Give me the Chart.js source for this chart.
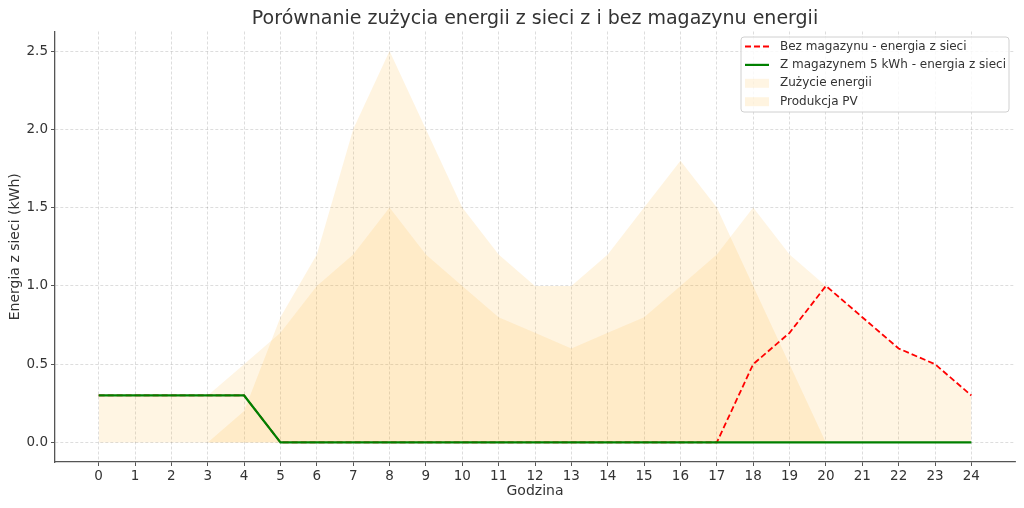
<!DOCTYPE html>
<html>
<head>
<meta charset="utf-8">
<script src="https://cdn.jsdelivr.net/npm/chart.js@4.4.0/dist/chart.umd.min.js"></script>
<style>
  html, body { margin: 0; padding: 0; background: #fff; }
  canvas { display: block; }
</style>
</head>
<body>
<canvas id="chart" width="1024" height="508"></canvas>
<script>
// ---------------------------------------------------------
// Data
// ---------------------------------------------------------
const HOURS = [0, 1, 2, 3, 4, 5, 6, 7, 8, 9, 10, 11, 12, 13, 14, 15, 16, 17, 18, 19, 20, 21, 22, 23, 24];
const GRID_NO_STORAGE = [0.3, 0.3, 0.3, 0.3, 0.3, 0, 0, 0, 0, 0, 0, 0, 0, 0, 0, 0, 0, 0, 0.5, 0.7, 1.0, 0.8, 0.6, 0.5, 0.3];
const GRID_WITH_STORAGE = [0.3, 0.3, 0.3, 0.3, 0.3, 0, 0, 0, 0, 0, 0, 0, 0, 0, 0, 0, 0, 0, 0, 0, 0, 0, 0, 0, 0];
const CONSUMPTION = [0.3, 0.3, 0.3, 0.3, 0.5, 0.7, 1.0, 1.2, 1.5, 1.2, 1.0, 0.8, 0.7, 0.6, 0.7, 0.8, 1.0, 1.2, 1.5, 1.2, 1.0, 0.8, 0.6, 0.5, 0.3];
const PV_PRODUCTION = [0, 0, 0, 0, 0.2, 0.8, 1.2, 2.0, 2.5, 2.0, 1.5, 1.2, 1.0, 1.0, 1.2, 1.5, 1.8, 1.5, 1.0, 0.5, 0, 0, 0, 0, 0];
const Y_TICKS = [0, 0.5, 1.0, 1.5, 2.0, 2.5];

const TITLE = 'Porównanie zużycia energii z sieci z i bez magazynu energii';
const X_LABEL = 'Godzina';
const Y_LABEL = 'Energia z sieci (kWh)';

// ---------------------------------------------------------
// Styling
// ---------------------------------------------------------
const FONT = '"DejaVu Sans", Verdana, sans-serif';
const TEXT_COLOR = '#333';
const GRID_COLOR = 'rgba(0, 0, 0, 0.17)';
const SPINE_COLOR = '#555';
const RED = '#ff0000';
const GREEN = '#008000';
const FILL_CONS = 'rgba(255, 165, 0, 0.11)';
const FILL_PV = 'rgba(255, 165, 0, 0.12)';

const toPoints = (ys) => HOURS.map((h, i) => ({ x: h, y: ys[i] }));

// Title centred over the plot area (not the whole canvas)
const plotTitle = {
  id: 'plotTitle',
  afterDraw(chart) {
    const { ctx, chartArea } = chart;
    ctx.save();
    ctx.font = '19px ' + FONT;
    ctx.fillStyle = TEXT_COLOR;
    ctx.textAlign = 'center';
    ctx.textBaseline = 'middle';
    ctx.fillText(TITLE, (chartArea.left + chartArea.right) / 2, 19.3);
    ctx.restore();
  }
};

// Legend drawn inside the plot, top-right, matplotlib style
const insideLegend = {
  id: 'insideLegend',
  afterDraw(chart) {
    const { ctx, chartArea } = chart;
    const items = chart.data.datasets;
    ctx.save();
    ctx.font = '12px ' + FONT;
    const textW = Math.max(...items.map(d => ctx.measureText(d.label).width));
    const w = 39 + textW + 3;
    const h = 75;
    const x = chartArea.right - 6 - w;
    const y = chartArea.top + 5.5;

    ctx.beginPath();
    ctx.roundRect(x, y, w, h, 3);
    ctx.fillStyle = 'rgba(255, 255, 255, 0.8)';
    ctx.fill();
    ctx.strokeStyle = '#d0d0d0';
    ctx.lineWidth = 1;
    ctx.stroke();

    items.forEach((d, i) => {
      const cy = y + 9.5 + i * 18.4;
      if (d.fill) {
        ctx.fillStyle = d.backgroundColor;
        ctx.fillRect(x + 4, cy - 4.5, 24, 9);
      } else {
        ctx.beginPath();
        ctx.setLineDash(d.borderDash || []);
        ctx.strokeStyle = d.borderColor;
        ctx.lineWidth = d.borderWidth;
        ctx.moveTo(x + 4, cy);
        ctx.lineTo(x + 28, cy);
        ctx.stroke();
        ctx.setLineDash([]);
      }
      ctx.fillStyle = TEXT_COLOR;
      ctx.textBaseline = 'middle';
      ctx.textAlign = 'left';
      ctx.fillText(d.label, x + 39, cy);
    });
    ctx.restore();
  }
};

new Chart(document.getElementById('chart').getContext('2d'), {
  type: 'line',
  data: {
    datasets: [
      {
        label: 'Bez magazynu - energia z sieci',
        data: toPoints(GRID_NO_STORAGE),
        borderColor: RED,
        borderWidth: 1.8,
        borderDash: [6, 3],
        pointRadius: 0,
        fill: false,
        tension: 0,
        order: 1,
      },
      {
        label: 'Z magazynem 5 kWh - energia z sieci',
        data: toPoints(GRID_WITH_STORAGE),
        borderColor: GREEN,
        borderWidth: 2.2,
        pointRadius: 0,
        fill: false,
        tension: 0,
        order: 0,
      },
      {
        label: 'Zużycie energii',
        data: toPoints(CONSUMPTION),
        borderWidth: 0,
        borderColor: 'rgba(0,0,0,0)',
        backgroundColor: FILL_CONS,
        pointRadius: 0,
        fill: 'origin',
        tension: 0,
        order: 2,
      },
      {
        label: 'Produkcja PV',
        data: toPoints(PV_PRODUCTION),
        borderWidth: 0,
        borderColor: 'rgba(0,0,0,0)',
        backgroundColor: FILL_PV,
        pointRadius: 0,
        fill: 'origin',
        tension: 0,
        order: 3,
      },
    ],
  },
  options: {
    responsive: false,
    animation: false,
    events: [],
    layout: { padding: { left: 0, right: 9, top: 31.5, bottom: 0 } },
    plugins: {
      legend: { display: false },
      tooltip: { enabled: false },
      title: { display: false },
    },
    scales: {
      x: {
        type: 'linear',
        min: -1.2,
        max: 25.2,
        afterBuildTicks: (axis) => { axis.ticks = HOURS.map(v => ({ value: v })); },
        afterFit: (axis) => { axis.height = 46; },
        ticks: {
          color: TEXT_COLOR,
          font: { family: FONT, size: 13.5 },
          padding: 2,
          autoSkip: false,
          maxRotation: 0,
          callback: (v) => String(v),
        },
        grid: {
          color: GRID_COLOR,
          lineWidth: 0.8,
          tickLength: 4,
          tickColor: SPINE_COLOR,
          tickWidth: 1,
          tickBorderDash: [],
        },
        border: { display: true, color: SPINE_COLOR, width: 1.3, dash: [3, 2] },
        title: {
          display: true,
          text: X_LABEL,
          color: TEXT_COLOR,
          font: { family: FONT, size: 14 },
          padding: { top: 0, bottom: 8 },
        },
      },
      y: {
        type: 'linear',
        min: -0.125,
        max: 2.625,
        afterBuildTicks: (axis) => { axis.ticks = Y_TICKS.map(v => ({ value: v })); },
        afterFit: (axis) => { axis.width = 55; },
        ticks: {
          color: TEXT_COLOR,
          font: { family: FONT, size: 13.5 },
          padding: 3,
          callback: (v) => Number(v).toFixed(1),
        },
        grid: {
          color: GRID_COLOR,
          lineWidth: 0.8,
          tickLength: 4,
          tickColor: SPINE_COLOR,
          tickWidth: 1,
          tickBorderDash: [],
        },
        border: { display: true, color: SPINE_COLOR, width: 1.3, dash: [3, 2] },
        title: {
          display: true,
          text: Y_LABEL,
          color: TEXT_COLOR,
          font: { family: FONT, size: 14 },
          padding: { top: 6.6, bottom: 0 },
        },
      },
    },
  },
  plugins: [plotTitle, insideLegend],
});
</script>
</body>
</html>
